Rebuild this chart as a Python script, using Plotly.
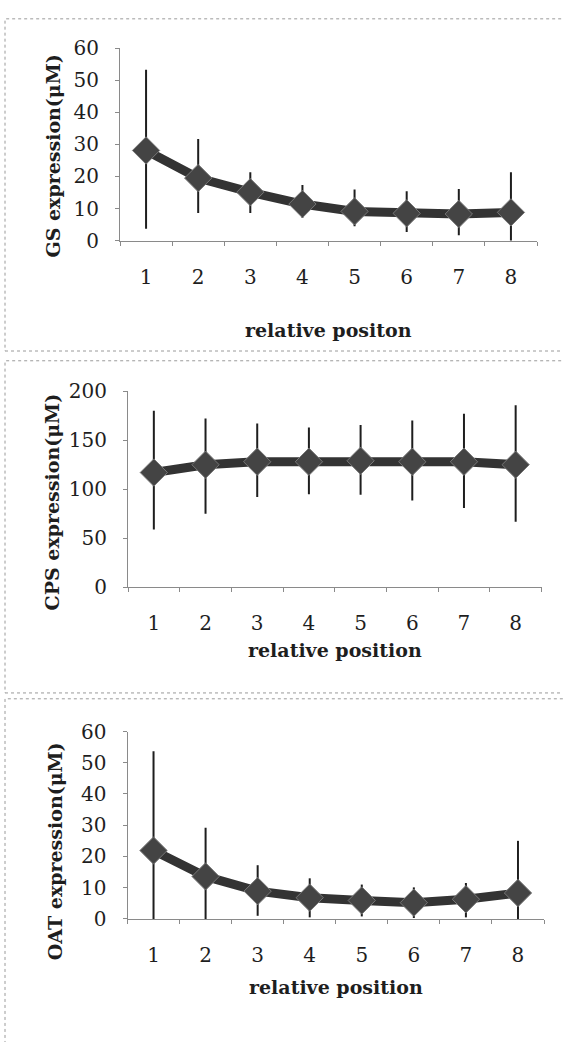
import plotly.graph_objects as go

W, H = 563, 1042

positions = ["1", "2", "3", "4", "5", "6", "7", "8"]

gs_mean = [28.1, 19.5, 15.1, 11.4, 9.1, 8.5, 8.3, 8.8]
gs_plus = [25.2, 12.2, 6.2, 5.9, 6.8, 6.9, 7.8, 12.5]
gs_minus = [24.4, 10.9, 6.5, 4.3, 4.6, 5.8, 6.6, 12.5]

cps_mean = [117, 125, 128, 128, 129, 128, 128, 125]
cps_plus = [63, 47, 39, 35, 36.5, 42, 49, 60.5]
cps_minus = [58, 50, 36, 33, 34.5, 39.5, 47, 58]

oat_mean = [21.9, 13.6, 8.9, 6.8, 5.9, 5.2, 6.3, 8.3]
oat_plus = [31.8, 15.6, 8.3, 6.2, 5.1, 4.9, 5.2, 16.7]
oat_minus = [31.8, 15.6, 7.9, 6.3, 5.1, 4.9, 5.8, 16.7]

gs_ticks = [0, 10, 20, 30, 40, 50, 60]
cps_ticks = [0, 50, 100, 150, 200]
oat_ticks = [0, 10, 20, 30, 40, 50, 60]

panels = [
    dict(mean=gs_mean, plus=gs_plus, minus=gs_minus, ticks=gs_ticks, ymax=60,
         xl=120, xr=537, yt=37, yb=234, ytitle="GS expression(μM)",
         xtitle="relative positon", xty=325, ytx=53, yty=148),
    dict(mean=cps_mean, plus=cps_plus, minus=cps_minus, ticks=cps_ticks, ymax=200,
         xl=128, xr=541.5, yt=388, yb=589, ytitle="CPS expression(μM)",
         xtitle="relative position", xty=653, ytx=52, yty=502),
    dict(mean=oat_mean, plus=oat_plus, minus=oat_minus, ticks=oat_ticks, ymax=60,
         xl=127.5, xr=544, yt=736.5, yb=928.3, ytitle="OAT expression(μM)",
         xtitle="relative position", xty=998, ytx=55, yty=859),
]

frames = [(5, 7, 600, 347), (5, 357, 600, 697), (5, 703, 600, 1100)]

FONT = "DejaVu Serif"
fig = go.Figure()
layout = {}
annotations = []
shapes = []

for i, p in enumerate(panels):
    n = "" if i == 0 else str(i + 1)
    xa, ya = "x" + n, "y" + n
    fig.add_trace(go.Scatter(
        x=positions, y=p["mean"], xaxis=xa, yaxis=ya, mode="lines+markers",
        line=dict(color="#333333", width=9),
        marker=dict(symbol="diamond", size=21, color="#444444",
                    line=dict(color="#777777", width=1)),
        error_y=dict(type="data", symmetric=False, array=p["plus"],
                     arrayminus=p["minus"], color="#1e1e1e", thickness=2, width=0),
        showlegend=False, cliponaxis=True,
    ))
    layout["xaxis" + n] = dict(
        domain=[p["xl"] / W, p["xr"] / W], anchor=ya, type="category",
        range=[-0.5, 7.5], showline=True, linecolor="#8a8a8a", linewidth=1,
        ticks="outside", tickson="boundaries", ticklen=4, tickcolor="#8a8a8a",
        showgrid=False, zeroline=False, ticklabelstandoff=18,
        tickfont=dict(family=FONT, size=20, color="#1e1e1e"),
    )
    layout["yaxis" + n] = dict(
        domain=[1 - p["yb"] / H, 1 - p["yt"] / H], anchor=xa,
        range=[0, p["ymax"]], tickvals=p["ticks"], showline=True,
        linecolor="#8a8a8a", linewidth=1, ticks="outside", ticklen=4,
        tickcolor="#8a8a8a", showgrid=False, zeroline=False,
        ticklabelstandoff=12,
        tickfont=dict(family=FONT, size=20, color="#1e1e1e"),
    )
    annotations.append(dict(
        x=(p["xl"] + p["xr"]) / 2 / W, y=1 - p["xty"] / H, xref="paper", yref="paper",
        text="<b>" + p["xtitle"] + "</b>", showarrow=False, xanchor="center",
        yanchor="middle", font=dict(family=FONT, size=19, color="#1e1e1e"),
    ))
    annotations.append(dict(
        x=p["ytx"] / W, y=1 - p["yty"] / H, xref="paper", yref="paper",
        text="<b>" + p["ytitle"] + "</b>", showarrow=False, textangle=-90,
        xanchor="center", yanchor="middle",
        font=dict(family=FONT, size=19, color="#1e1e1e"),
    ))

for (x0, y0, x1, y1) in frames:
    shapes.append(dict(type="rect", xref="paper", yref="paper",
                       x0=x0 / W, x1=x1 / W, y0=1 - y1 / H, y1=1 - y0 / H,
                       line=dict(color="#9a9a9a", width=1, dash="dot"),
                       fillcolor="rgba(0,0,0,0)", layer="below"))

fig.update_layout(
    width=W, height=H, margin=dict(l=0, r=0, t=0, b=0),
    paper_bgcolor="white", plot_bgcolor="white",
    annotations=annotations, shapes=shapes, **layout,
)

fig.write_html(
    "out.html",
    config={"displayModeBar": False},
    post_script="document.body.style.margin='0';document.body.style.overflow='hidden';",
)
